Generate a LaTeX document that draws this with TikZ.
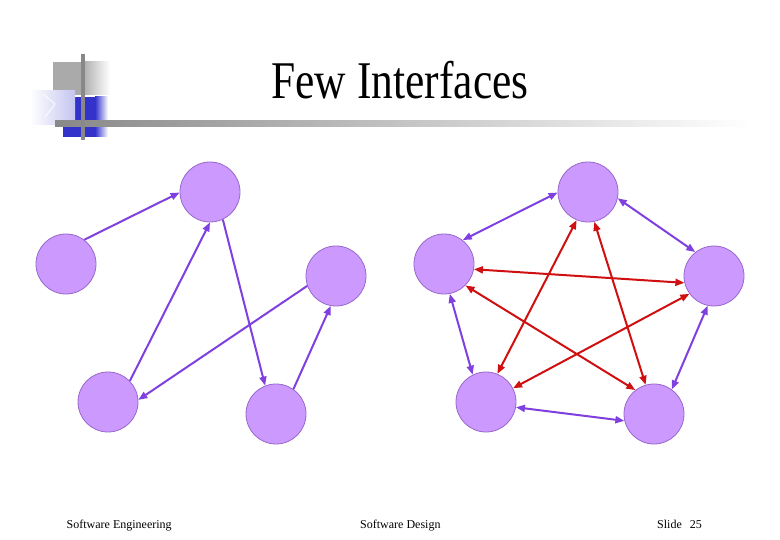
\documentclass[tikz,border=0pt]{standalone}
\usepackage{fontspec}
\setmainfont{Liberation Serif}
\usetikzlibrary{arrows.meta}
\definecolor{nodefill}{HTML}{CC99FF}
\definecolor{nodeline}{HTML}{9966CC}
\definecolor{purp}{HTML}{8040E0}
\definecolor{redarr}{HTML}{D01010}
\definecolor{logoblue}{HTML}{3333CC}
\definecolor{logogray}{HTML}{AAAAAA}
\definecolor{linegray}{HTML}{888888}
\definecolor{lav}{HTML}{C4C4F0}
\tikzset{
  ball/.style={circle, minimum size=60pt, inner sep=0pt, fill=nodefill, draw=nodeline, line width=0.8pt},
  parr/.style={draw=purp, line width=2pt, -{Triangle[length=9pt,width=7pt]}},
  pboth/.style={draw=purp, line width=2pt, {Triangle[length=9pt,width=7pt]}-{Triangle[length=9pt,width=7pt]}},
  rboth/.style={draw=redarr, line width=2pt, {Triangle[length=9pt,width=7pt]}-{Triangle[length=9pt,width=7pt]}},
  foot/.style={font=\fontsize{12}{14}\selectfont, inner sep=0pt}
}
\begin{document}
\begin{tikzpicture}[x=1pt,y=-1pt]
\useasboundingbox (0,0) rectangle (780,540);
\fill[white] (0,0) rectangle (780,540);
% logo
\fill[logogray] (53,62) rectangle (82,95);
\shade[left color=logogray, right color=white] (82,62) rectangle (110,95);
\fill[logoblue] (63,97) rectangle (95,137);
\shade[left color=logoblue, right color=white] (95,97) rectangle (108,137);
\shade[left color=white, right color=lav] (30,91) rectangle (75,125);
\draw[white, line width=0.8pt] (43,94) -- (55,104) -- (45,117);
\shade[left color=linegray, right color=white] (55,121) rectangle (750,127);
\fill[linegray] (81,54) rectangle (85,140);
% title
\node[anchor=base, inner sep=0pt, font=\fontsize{53}{60}\selectfont] (title) at (400,98.3) {\scalebox{0.82}[1]{Few Interfaces}};
% left graph
\node[ball] (A) at (210,192) {};
\node[ball] (B) at (66,264) {};
\node[ball] (C) at (336,276) {};
\node[ball] (D) at (108,402) {};
\node[ball] (E) at (276,414) {};
\draw[parr] (B.53) -- (A.181);
\draw[parr] (D.44) -- (A.-90);
\draw[parr] (A.-65) -- (E.111);
\draw[parr] (C.199) -- (D.4);
\draw[parr] (E.55) -- (C.-100);
% right graph
\node[ball] (P1) at (588,192) {};
\node[ball] (P2) at (444,264) {};
\node[ball] (P3) at (714,276) {};
\node[ball] (P4) at (486,402) {};
\node[ball] (P5) at (654,414) {};
\draw[pboth] (P1.181) -- (P2.52);
\draw[pboth] (P1.-12) -- (P3.128);
\draw[pboth] (P2.-79) -- (P4.116);
\draw[pboth] (P3.-102) -- (P5.54);
\draw[pboth] (P4.-10) -- (P5.193);
\draw[rboth] (P2.-10) -- (P3.193);
\draw[rboth] (P2.-45) -- (P5.128);
\draw[rboth] (P1.-112) -- (P4.68);
\draw[rboth] (P1.-78) -- (P5.106);
\draw[rboth] (P3.216) -- (P4.27);
% footer
\node[foot, anchor=base west] (f1) at (66.5,528) {Software Engineering};
\node[foot, anchor=base west] (f2) at (360,528) {Software Design};
\node[foot, anchor=base west] (f3) at (657,528) {Slide\hspace{8pt}25};
\end{tikzpicture}
\end{document}
